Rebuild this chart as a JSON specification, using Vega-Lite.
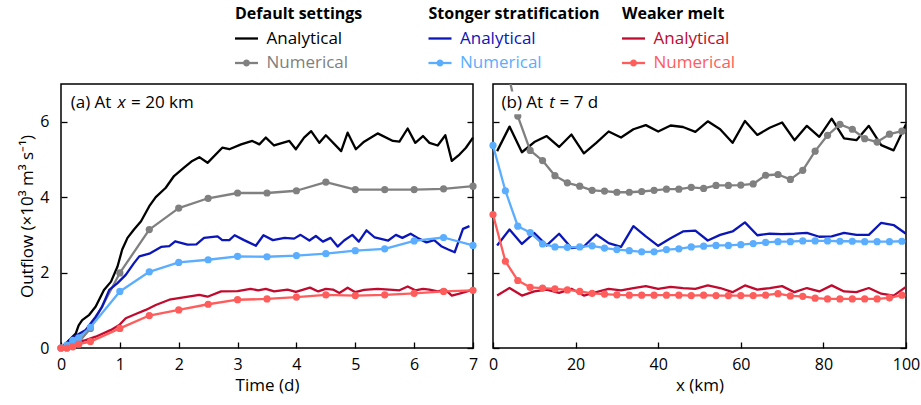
{
  "$schema": "https://vega.github.io/schema/vega-lite/v6.json",
  "padding": {"left": 18, "top": 0, "right": 0, "bottom": 0},
  "bounds": "flush",
  "spacing": 7,
  "config": {
    "font": "Open Sans",
    "view": {"stroke": "black", "strokeWidth": 1.5},
    "axis": {"grid": false, "domain": false, "tickColor": "black", "tickWidth": 1.3, "tickSize": -6,
      "labelFont": "Open Sans", "labelFontSize": 16, "labelColor": "black", "labelFlush": false, "labelOverlap": false, "labelBound": false,
      "titleFont": "Open Sans", "titleFontSize": 17, "titleFontWeight": "normal", "titleColor": "black"},
    "axisX": {"labelPadding": 14, "titlePadding": 5},
    "axisY": {"labelPadding": 18, "titlePadding": 3}
  },
  "datasets": {
    "leg": [
      {"grp": "Default settings", "role": "title"},
      {"grp": "Default settings", "role": "Analytical", "s": "da"},
      {"grp": "Default settings", "role": "Numerical", "s": "dn"},
      {"grp": "Stonger stratification", "role": "title"},
      {"grp": "Stonger stratification", "role": "Analytical", "s": "sa"},
      {"grp": "Stonger stratification", "role": "Numerical", "s": "sn"},
      {"grp": "Weaker melt", "role": "title"},
      {"grp": "Weaker melt", "role": "Analytical", "s": "wa"},
      {"grp": "Weaker melt", "role": "Numerical", "s": "wn"}
    ],
    "a": [
      {"s":"da","x":0,"y":0},{"s":"da","x":0.14,"y":0.21},{"s":"da","x":0.25,"y":0.38},{"s":"da","x":0.3,"y":0.6},{"s":"da","x":0.36,"y":0.74},{"s":"da","x":0.48,"y":0.88},{"s":"da","x":0.59,"y":1.1},{"s":"da","x":0.73,"y":1.54},{"s":"da","x":0.85,"y":1.76},{"s":"da","x":0.96,"y":2.16},{"s":"da","x":1.04,"y":2.61},{"s":"da","x":1.13,"y":2.92},{"s":"da","x":1.24,"y":3.14},{"s":"da","x":1.36,"y":3.36},{"s":"da","x":1.5,"y":3.76},{"s":"da","x":1.61,"y":4.0},{"s":"da","x":1.78,"y":4.25},{"s":"da","x":1.92,"y":4.56},{"s":"da","x":2.09,"y":4.78},{"s":"da","x":2.23,"y":4.96},{"s":"da","x":2.35,"y":5.06},{"s":"da","x":2.49,"y":4.91},{"s":"da","x":2.74,"y":5.31},{"s":"da","x":2.86,"y":5.27},{"s":"da","x":3.06,"y":5.4},{"s":"da","x":3.25,"y":5.49},{"s":"da","x":3.37,"y":5.4},{"s":"da","x":3.48,"y":5.58},{"s":"da","x":3.62,"y":5.37},{"s":"da","x":3.88,"y":5.49},{"s":"da","x":3.99,"y":5.27},{"s":"da","x":4.13,"y":5.58},{"s":"da","x":4.25,"y":5.75},{"s":"da","x":4.39,"y":5.44},{"s":"da","x":4.5,"y":5.64},{"s":"da","x":4.76,"y":5.22},{"s":"da","x":4.87,"y":5.71},{"s":"da","x":5.01,"y":5.27},{"s":"da","x":5.15,"y":5.47},{"s":"da","x":5.38,"y":5.69},{"s":"da","x":5.64,"y":5.49},{"s":"da","x":5.75,"y":5.47},{"s":"da","x":5.89,"y":5.82},{"s":"da","x":6.02,"y":5.44},{"s":"da","x":6.15,"y":5.62},{"s":"da","x":6.26,"y":5.44},{"s":"da","x":6.4,"y":5.37},{"s":"da","x":6.53,"y":5.64},{"s":"da","x":6.64,"y":4.96},{"s":"da","x":6.77,"y":5.13},{"s":"da","x":6.88,"y":5.31},{"s":"da","x":7.0,"y":5.58},
      {"s":"dn","x":0,"y":0},{"s":"dn","x":0.1,"y":0},{"s":"dn","x":0.2,"y":0.05},{"s":"dn","x":0.3,"y":0.15},{"s":"dn","x":0.5,"y":0.52},{"s":"dn","x":1,"y":1.99},{"s":"dn","x":1.5,"y":3.14},{"s":"dn","x":2,"y":3.71},{"s":"dn","x":2.5,"y":3.97},{"s":"dn","x":3,"y":4.11},{"s":"dn","x":3.5,"y":4.11},{"s":"dn","x":4,"y":4.17},{"s":"dn","x":4.5,"y":4.4},{"s":"dn","x":5,"y":4.2},{"s":"dn","x":5.5,"y":4.2},{"s":"dn","x":6,"y":4.2},{"s":"dn","x":6.5,"y":4.22},{"s":"dn","x":7,"y":4.29},
      {"s":"sa","x":0,"y":0},{"s":"sa","x":0.22,"y":0.3},{"s":"sa","x":0.42,"y":0.48},{"s":"sa","x":0.59,"y":0.83},{"s":"sa","x":0.7,"y":1.1},{"s":"sa","x":0.82,"y":1.54},{"s":"sa","x":0.96,"y":1.72},{"s":"sa","x":1.1,"y":1.94},{"s":"sa","x":1.24,"y":2.25},{"s":"sa","x":1.33,"y":2.43},{"s":"sa","x":1.5,"y":2.5},{"s":"sa","x":1.7,"y":2.68},{"s":"sa","x":1.84,"y":2.7},{"s":"sa","x":1.94,"y":2.83},{"s":"sa","x":2.15,"y":2.74},{"s":"sa","x":2.3,"y":2.75},{"s":"sa","x":2.43,"y":2.92},{"s":"sa","x":2.66,"y":2.96},{"s":"sa","x":2.74,"y":2.86},{"s":"sa","x":2.86,"y":2.86},{"s":"sa","x":2.95,"y":2.99},{"s":"sa","x":3.11,"y":2.86},{"s":"sa","x":3.31,"y":2.71},{"s":"sa","x":3.44,"y":2.99},{"s":"sa","x":3.6,"y":2.86},{"s":"sa","x":3.8,"y":2.92},{"s":"sa","x":3.96,"y":2.9},{"s":"sa","x":4.07,"y":3.0},{"s":"sa","x":4.22,"y":2.85},{"s":"sa","x":4.33,"y":2.97},{"s":"sa","x":4.45,"y":2.82},{"s":"sa","x":4.58,"y":2.92},{"s":"sa","x":4.7,"y":2.69},{"s":"sa","x":4.81,"y":2.85},{"s":"sa","x":4.95,"y":3.0},{"s":"sa","x":5.06,"y":2.82},{"s":"sa","x":5.19,"y":3.12},{"s":"sa","x":5.33,"y":2.93},{"s":"sa","x":5.56,"y":2.85},{"s":"sa","x":5.69,"y":3.0},{"s":"sa","x":5.8,"y":2.92},{"s":"sa","x":5.94,"y":3.03},{"s":"sa","x":6.08,"y":2.9},{"s":"sa","x":6.21,"y":2.8},{"s":"sa","x":6.34,"y":2.86},{"s":"sa","x":6.46,"y":2.7},{"s":"sa","x":6.57,"y":2.62},{"s":"sa","x":6.69,"y":2.54},{"s":"sa","x":6.83,"y":3.16},{"s":"sa","x":6.94,"y":3.23},
      {"s":"sn","x":0,"y":0},{"s":"sn","x":0.1,"y":0.08},{"s":"sn","x":0.2,"y":0.2},{"s":"sn","x":0.3,"y":0.27},{"s":"sn","x":0.5,"y":0.55},{"s":"sn","x":1,"y":1.5},{"s":"sn","x":1.5,"y":2.02},{"s":"sn","x":2,"y":2.27},{"s":"sn","x":2.5,"y":2.34},{"s":"sn","x":3,"y":2.43},{"s":"sn","x":3.5,"y":2.42},{"s":"sn","x":4,"y":2.45},{"s":"sn","x":4.5,"y":2.5},{"s":"sn","x":5,"y":2.58},{"s":"sn","x":5.5,"y":2.63},{"s":"sn","x":6,"y":2.84},{"s":"sn","x":6.5,"y":2.93},{"s":"sn","x":7,"y":2.72},
      {"s":"wa","x":0,"y":0},{"s":"wa","x":0.14,"y":0.1},{"s":"wa","x":0.42,"y":0.21},{"s":"wa","x":0.59,"y":0.3},{"s":"wa","x":0.85,"y":0.48},{"s":"wa","x":0.99,"y":0.61},{"s":"wa","x":1.1,"y":0.79},{"s":"wa","x":1.27,"y":0.9},{"s":"wa","x":1.44,"y":1.01},{"s":"wa","x":1.61,"y":1.14},{"s":"wa","x":1.84,"y":1.28},{"s":"wa","x":2.0,"y":1.32},{"s":"wa","x":2.35,"y":1.41},{"s":"wa","x":2.49,"y":1.36},{"s":"wa","x":2.72,"y":1.5},{"s":"wa","x":3.0,"y":1.51},{"s":"wa","x":3.22,"y":1.57},{"s":"wa","x":3.35,"y":1.53},{"s":"wa","x":3.48,"y":1.57},{"s":"wa","x":3.62,"y":1.5},{"s":"wa","x":3.85,"y":1.55},{"s":"wa","x":3.99,"y":1.49},{"s":"wa","x":4.23,"y":1.6},{"s":"wa","x":4.37,"y":1.5},{"s":"wa","x":4.5,"y":1.57},{"s":"wa","x":4.62,"y":1.55},{"s":"wa","x":4.73,"y":1.46},{"s":"wa","x":4.87,"y":1.6},{"s":"wa","x":5.0,"y":1.48},{"s":"wa","x":5.15,"y":1.54},{"s":"wa","x":5.38,"y":1.57},{"s":"wa","x":5.64,"y":1.54},{"s":"wa","x":5.75,"y":1.53},{"s":"wa","x":5.89,"y":1.63},{"s":"wa","x":6.02,"y":1.53},{"s":"wa","x":6.15,"y":1.57},{"s":"wa","x":6.26,"y":1.55},{"s":"wa","x":6.4,"y":1.5},{"s":"wa","x":6.53,"y":1.55},{"s":"wa","x":6.64,"y":1.39},{"s":"wa","x":6.77,"y":1.44},{"s":"wa","x":7.0,"y":1.55},
      {"s":"wn","x":0,"y":0},{"s":"wn","x":0.1,"y":0},{"s":"wn","x":0.2,"y":0.03},{"s":"wn","x":0.3,"y":0.1},{"s":"wn","x":0.5,"y":0.17},{"s":"wn","x":1,"y":0.52},{"s":"wn","x":1.5,"y":0.86},{"s":"wn","x":2,"y":1.01},{"s":"wn","x":2.5,"y":1.16},{"s":"wn","x":3,"y":1.28},{"s":"wn","x":3.5,"y":1.3},{"s":"wn","x":4,"y":1.35},{"s":"wn","x":4.5,"y":1.41},{"s":"wn","x":5,"y":1.39},{"s":"wn","x":5.5,"y":1.41},{"s":"wn","x":6,"y":1.45},{"s":"wn","x":6.5,"y":1.5},{"s":"wn","x":7,"y":1.53}
    ],
    "b": [
      {"s":"da","x":1,"y":5.22},{"s":"da","x":4,"y":5.87},{"s":"da","x":7,"y":5.19},{"s":"da","x":10,"y":5.46},{"s":"da","x":13,"y":5.62},{"s":"da","x":16,"y":5.33},{"s":"da","x":19,"y":5.66},{"s":"da","x":22,"y":5.16},{"s":"da","x":25,"y":5.44},{"s":"da","x":28,"y":5.74},{"s":"da","x":31,"y":5.58},{"s":"da","x":34,"y":5.8},{"s":"da","x":37,"y":5.91},{"s":"da","x":40,"y":5.74},{"s":"da","x":43,"y":5.9},{"s":"da","x":46,"y":5.86},{"s":"da","x":49,"y":5.73},{"s":"da","x":52,"y":6.01},{"s":"da","x":55,"y":5.8},{"s":"da","x":58,"y":5.44},{"s":"da","x":61,"y":6.02},{"s":"da","x":64,"y":5.65},{"s":"da","x":67,"y":5.84},{"s":"da","x":70,"y":5.98},{"s":"da","x":73,"y":5.51},{"s":"da","x":76,"y":5.89},{"s":"da","x":79,"y":5.6},{"s":"da","x":82,"y":6.08},{"s":"da","x":85,"y":5.56},{"s":"da","x":88,"y":5.51},{"s":"da","x":91,"y":5.89},{"s":"da","x":94,"y":5.38},{"s":"da","x":97,"y":5.24},{"s":"da","x":100,"y":5.93},
      {"s":"dn","x":0,"y":10.0},{"s":"dn","x":3,"y":7.6},{"s":"dn","x":6,"y":6.15},{"s":"dn","x":9,"y":5.24},{"s":"dn","x":12,"y":4.97},{"s":"dn","x":15,"y":4.57},{"s":"dn","x":18,"y":4.38},{"s":"dn","x":21,"y":4.29},{"s":"dn","x":24,"y":4.18},{"s":"dn","x":27,"y":4.16},{"s":"dn","x":30,"y":4.13},{"s":"dn","x":33,"y":4.13},{"s":"dn","x":36,"y":4.15},{"s":"dn","x":39,"y":4.18},{"s":"dn","x":42,"y":4.21},{"s":"dn","x":45,"y":4.21},{"s":"dn","x":48,"y":4.26},{"s":"dn","x":51,"y":4.23},{"s":"dn","x":54,"y":4.31},{"s":"dn","x":57,"y":4.31},{"s":"dn","x":60,"y":4.32},{"s":"dn","x":63,"y":4.35},{"s":"dn","x":66,"y":4.58},{"s":"dn","x":69,"y":4.6},{"s":"dn","x":72,"y":4.47},{"s":"dn","x":75,"y":4.71},{"s":"dn","x":78,"y":5.22},{"s":"dn","x":81,"y":5.64},{"s":"dn","x":84,"y":5.93},{"s":"dn","x":87,"y":5.8},{"s":"dn","x":90,"y":5.55},{"s":"dn","x":93,"y":5.46},{"s":"dn","x":96,"y":5.67},{"s":"dn","x":99,"y":5.75},
      {"s":"sa","x":1,"y":2.72},{"s":"sa","x":4,"y":3.14},{"s":"sa","x":7,"y":2.76},{"s":"sa","x":10,"y":3.05},{"s":"sa","x":13,"y":2.72},{"s":"sa","x":16,"y":3.03},{"s":"sa","x":19,"y":2.65},{"s":"sa","x":22,"y":2.69},{"s":"sa","x":25,"y":3.01},{"s":"sa","x":28,"y":2.78},{"s":"sa","x":31,"y":2.68},{"s":"sa","x":34,"y":3.23},{"s":"sa","x":37,"y":2.96},{"s":"sa","x":40,"y":2.71},{"s":"sa","x":43,"y":2.91},{"s":"sa","x":46,"y":3.09},{"s":"sa","x":49,"y":3.11},{"s":"sa","x":52,"y":2.85},{"s":"sa","x":55,"y":3.0},{"s":"sa","x":58,"y":3.09},{"s":"sa","x":61,"y":3.33},{"s":"sa","x":64,"y":2.99},{"s":"sa","x":67,"y":3.03},{"s":"sa","x":70,"y":3.02},{"s":"sa","x":73,"y":3.03},{"s":"sa","x":76,"y":3.05},{"s":"sa","x":79,"y":2.95},{"s":"sa","x":82,"y":2.96},{"s":"sa","x":85,"y":3.05},{"s":"sa","x":88,"y":3.0},{"s":"sa","x":91,"y":3.0},{"s":"sa","x":94,"y":3.32},{"s":"sa","x":97,"y":3.26},{"s":"sa","x":100,"y":3.03},
      {"s":"sn","x":0,"y":5.37},{"s":"sn","x":3,"y":4.17},{"s":"sn","x":6,"y":3.23},{"s":"sn","x":9,"y":3.06},{"s":"sn","x":12,"y":2.76},{"s":"sn","x":15,"y":2.68},{"s":"sn","x":18,"y":2.67},{"s":"sn","x":21,"y":2.68},{"s":"sn","x":24,"y":2.71},{"s":"sn","x":27,"y":2.65},{"s":"sn","x":30,"y":2.61},{"s":"sn","x":33,"y":2.58},{"s":"sn","x":36,"y":2.55},{"s":"sn","x":39,"y":2.55},{"s":"sn","x":42,"y":2.61},{"s":"sn","x":45,"y":2.63},{"s":"sn","x":48,"y":2.68},{"s":"sn","x":51,"y":2.7},{"s":"sn","x":54,"y":2.72},{"s":"sn","x":57,"y":2.72},{"s":"sn","x":60,"y":2.74},{"s":"sn","x":63,"y":2.77},{"s":"sn","x":66,"y":2.8},{"s":"sn","x":69,"y":2.82},{"s":"sn","x":72,"y":2.82},{"s":"sn","x":75,"y":2.84},{"s":"sn","x":78,"y":2.84},{"s":"sn","x":81,"y":2.84},{"s":"sn","x":84,"y":2.83},{"s":"sn","x":87,"y":2.83},{"s":"sn","x":90,"y":2.82},{"s":"sn","x":93,"y":2.82},{"s":"sn","x":96,"y":2.82},{"s":"sn","x":99,"y":2.83},
      {"s":"wa","x":1,"y":1.39},{"s":"wa","x":4,"y":1.59},{"s":"wa","x":7,"y":1.39},{"s":"wa","x":10,"y":1.5},{"s":"wa","x":13,"y":1.55},{"s":"wa","x":16,"y":1.46},{"s":"wa","x":19,"y":1.57},{"s":"wa","x":22,"y":1.39},{"s":"wa","x":25,"y":1.48},{"s":"wa","x":28,"y":1.57},{"s":"wa","x":31,"y":1.53},{"s":"wa","x":34,"y":1.59},{"s":"wa","x":37,"y":1.64},{"s":"wa","x":40,"y":1.57},{"s":"wa","x":43,"y":1.62},{"s":"wa","x":46,"y":1.59},{"s":"wa","x":49,"y":1.57},{"s":"wa","x":52,"y":1.66},{"s":"wa","x":55,"y":1.59},{"s":"wa","x":58,"y":1.48},{"s":"wa","x":61,"y":1.66},{"s":"wa","x":64,"y":1.55},{"s":"wa","x":67,"y":1.59},{"s":"wa","x":70,"y":1.64},{"s":"wa","x":73,"y":1.48},{"s":"wa","x":76,"y":1.59},{"s":"wa","x":79,"y":1.5},{"s":"wa","x":82,"y":1.66},{"s":"wa","x":85,"y":1.5},{"s":"wa","x":88,"y":1.48},{"s":"wa","x":91,"y":1.59},{"s":"wa","x":94,"y":1.44},{"s":"wa","x":97,"y":1.39},{"s":"wa","x":100,"y":1.62},
      {"s":"wn","x":0,"y":3.54},{"s":"wn","x":3,"y":2.3},{"s":"wn","x":6,"y":1.79},{"s":"wn","x":9,"y":1.61},{"s":"wn","x":12,"y":1.59},{"s":"wn","x":15,"y":1.57},{"s":"wn","x":18,"y":1.54},{"s":"wn","x":21,"y":1.5},{"s":"wn","x":24,"y":1.45},{"s":"wn","x":27,"y":1.43},{"s":"wn","x":30,"y":1.41},{"s":"wn","x":33,"y":1.4},{"s":"wn","x":36,"y":1.4},{"s":"wn","x":39,"y":1.4},{"s":"wn","x":42,"y":1.4},{"s":"wn","x":45,"y":1.4},{"s":"wn","x":48,"y":1.39},{"s":"wn","x":51,"y":1.4},{"s":"wn","x":54,"y":1.39},{"s":"wn","x":57,"y":1.39},{"s":"wn","x":60,"y":1.39},{"s":"wn","x":63,"y":1.39},{"s":"wn","x":66,"y":1.4},{"s":"wn","x":69,"y":1.44},{"s":"wn","x":72,"y":1.38},{"s":"wn","x":75,"y":1.37},{"s":"wn","x":78,"y":1.32},{"s":"wn","x":81,"y":1.3},{"s":"wn","x":84,"y":1.3},{"s":"wn","x":87,"y":1.3},{"s":"wn","x":90,"y":1.3},{"s":"wn","x":93,"y":1.3},{"s":"wn","x":96,"y":1.33},{"s":"wn","x":99,"y":1.4}
    ]
  },
  "vconcat": [
    {
      "width": 735, "height": 77,
      "view": {"stroke": null},
      "data": {"name": "leg"},
      "layer": [
        {"transform": [{"filter": "datum.role == 'title'"}],
         "mark": {"type": "text", "align": "left", "baseline": "middle", "fontSize": 16, "fontWeight": "bold", "color": "black"},
         "encoding": {
           "x": {"field": "grp", "type": "nominal", "scale": {"type": "point", "domain": ["Default settings", "Stonger stratification", "Weaker melt"], "padding": 0.899}, "axis": null},
           "y": {"field": "role", "type": "nominal", "scale": {"type": "point", "domain": ["title", "Analytical", "Numerical"], "padding": 0.5714}, "axis": null},
           "text": {"field": "grp"}}},
        {"transform": [{"filter": "datum.role != 'title'"}],
         "mark": {"type": "text", "align": "left", "baseline": "middle", "fontSize": 17, "dx": 31.5},
         "encoding": {
           "x": {"field": "grp", "type": "nominal", "axis": null},
           "y": {"field": "role", "type": "nominal", "axis": null},
           "text": {"field": "role"},
           "color": {"field": "s", "type": "nominal", "scale": {"domain": ["da","dn","sa","sn","wa","wn"], "range": ["#000000","#808080","#0b16b8","#5aadff","#c00a2e","#ff5c5c"]}, "legend": null}}},
        {"transform": [{"filter": "datum.role != 'title'"}],
         "mark": {"type": "point", "shape": "M0,0H2", "size": 529, "filled": false, "strokeWidth": 2.3, "opacity": 1},
         "encoding": {
           "x": {"field": "grp", "type": "nominal", "axis": null},
           "y": {"field": "role", "type": "nominal", "axis": null},
           "color": {"field": "s", "type": "nominal", "legend": null}}},
        {"transform": [{"filter": "datum.role == 'Numerical'"}],
         "mark": {"type": "point", "shape": "M0.7,0A0.3,0.3 0 1,0 1.3,0A0.3,0.3 0 1,0 0.7,0Z", "size": 529, "filled": true, "opacity": 1},
         "encoding": {
           "x": {"field": "grp", "type": "nominal", "axis": null},
           "y": {"field": "role", "type": "nominal", "axis": null},
           "color": {"field": "s", "type": "nominal", "legend": null}}}
      ]
    },
    {
      "bounds": "flush",
      "spacing": 20,
      "hconcat": [
        {
          "width": 412, "height": 264,
          "data": {"name": "a"},
          "layer": [
            {"mark": {"type": "line", "strokeWidth": 2.3, "strokeJoin": "round"},
             "encoding": {
               "x": {"field": "x", "type": "quantitative", "scale": {"domain": [0, 7], "nice": false}, "axis": {"title": "Time (d)", "values": [0,1,2,3,4,5,6,7]}},
               "y": {"field": "y", "type": "quantitative", "scale": {"domain": [0, 7], "nice": false}, "axis": {"title": "Outflow (×10³ m³ s⁻¹)", "values": [0,2,4,6]}},
               "color": {"field": "s", "type": "nominal", "legend": null}}},
            {"transform": [{"filter": "datum.s == 'dn' || datum.s == 'sn' || datum.s == 'wn'"}],
             "mark": {"type": "point", "filled": true, "size": 52, "opacity": 1},
             "encoding": {
               "x": {"field": "x", "type": "quantitative", "scale": {"domain": [0, 7], "nice": false}, "axis": null},
               "y": {"field": "y", "type": "quantitative", "scale": {"domain": [0, 7], "nice": false}, "axis": {"orient": "right", "labels": false, "title": null, "values": [0,2,4,6]}},
               "color": {"field": "s", "type": "nominal", "legend": null}}},
            {"data": {"values": [{}]},
             "mark": {"type": "text", "align": "left", "baseline": "middle", "fontSize": 17, "text": "(a) At", "color": "black"},
             "encoding": {"x": {"datum": 0.165, "type": "quantitative", "axis": null}, "y": {"datum": 6.5, "type": "quantitative", "axis": null}}},
            {"data": {"values": [{}]},
             "mark": {"type": "text", "align": "left", "baseline": "middle", "fontSize": 17, "fontStyle": "italic", "text": "x", "color": "black"},
             "encoding": {"x": {"datum": 0.96, "type": "quantitative", "axis": null}, "y": {"datum": 6.5, "type": "quantitative", "axis": null}}},
            {"data": {"values": [{}]},
             "mark": {"type": "text", "align": "left", "baseline": "middle", "fontSize": 17, "text": "= 20 km", "color": "black"},
             "encoding": {"x": {"datum": 1.19, "type": "quantitative", "axis": null}, "y": {"datum": 6.5, "type": "quantitative", "axis": null}}}
          ],
          "resolve": {"axis": {"x": "independent", "y": "independent"}}
        },
        {
          "width": 413, "height": 264,
          "data": {"name": "b"},
          "layer": [
            {"mark": {"type": "line", "strokeWidth": 2.3, "strokeJoin": "round", "clip": true},
             "encoding": {
               "x": {"field": "x", "type": "quantitative", "scale": {"domain": [0, 100], "nice": false}, "axis": {"title": "x (km)", "values": [0,20,40,60,80,100]}},
               "y": {"field": "y", "type": "quantitative", "scale": {"domain": [0, 7], "nice": false}, "axis": {"labels": false, "title": null, "values": [0,2,4,6]}},
               "color": {"field": "s", "type": "nominal", "legend": null}}},
            {"transform": [{"filter": "(datum.s == 'dn' || datum.s == 'sn' || datum.s == 'wn') && datum.y <= 7"}],
             "mark": {"type": "point", "filled": true, "size": 52, "opacity": 1},
             "encoding": {
               "x": {"field": "x", "type": "quantitative", "scale": {"domain": [0, 100], "nice": false}, "axis": null},
               "y": {"field": "y", "type": "quantitative", "scale": {"domain": [0, 7], "nice": false}, "axis": {"orient": "right", "labels": false, "title": null, "values": [0,2,4,6]}},
               "color": {"field": "s", "type": "nominal", "legend": null}}},
            {"data": {"values": [{}]},
             "mark": {"type": "rect", "color": "white"},
             "encoding": {"x": {"datum": 1.2, "type": "quantitative", "axis": null}, "x2": {"datum": 27}, "y": {"datum": 6.2, "type": "quantitative", "axis": null}, "y2": {"datum": 6.8}}},
            {"data": {"values": [{}]},
             "mark": {"type": "text", "align": "left", "baseline": "middle", "fontSize": 17, "text": "(b) At", "color": "black"},
             "encoding": {"x": {"datum": 2.06, "type": "quantitative", "axis": null}, "y": {"datum": 6.5, "type": "quantitative", "axis": null}}},
            {"data": {"values": [{}]},
             "mark": {"type": "text", "align": "left", "baseline": "middle", "fontSize": 17, "fontStyle": "italic", "text": "t", "color": "black"},
             "encoding": {"x": {"datum": 13.6, "type": "quantitative", "axis": null}, "y": {"datum": 6.5, "type": "quantitative", "axis": null}}},
            {"data": {"values": [{}]},
             "mark": {"type": "text", "align": "left", "baseline": "middle", "fontSize": 17, "text": "= 7 d", "color": "black"},
             "encoding": {"x": {"datum": 16.1, "type": "quantitative", "axis": null}, "y": {"datum": 6.5, "type": "quantitative", "axis": null}}}
          ],
          "resolve": {"axis": {"x": "independent", "y": "independent"}}
        }
      ]
    }
  ]
}
